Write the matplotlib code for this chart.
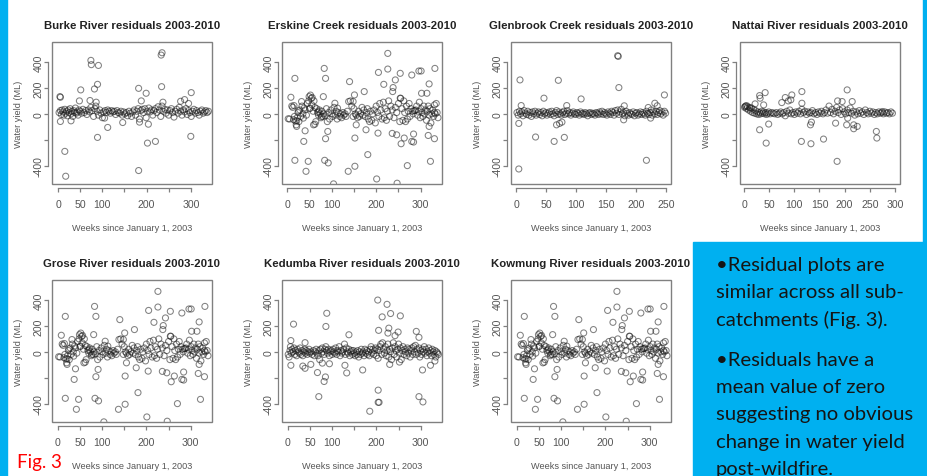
import matplotlib
matplotlib.use("Agg")
import matplotlib.pyplot as plt
from matplotlib.patches import Rectangle

# ---- data (week, residual ML) ----
burke = [(2,10),(5,25),(7,-5),(9,30),(11,15),(13,-10),(15,35),(17,5),(19,20),(21,-15),(23,30),(25,10),
         (27,40),(29,0),(31,20),(33,-20),(35,25),(37,10),(39,45),(41,5),(43,15),(45,-10),(47,30),(50,20),
         (53,5),(56,35),(59,10),(62,25),(65,-5),(68,30),(71,15),(74,50),(77,25),(80,-20),(83,40),(85,60),
         (88,20),(91,-10),(94,30),(97,5),(100,-30),(103,15),(106,25),(109,10),(112,30),(115,20),(118,5),
         (121,25),(124,15),(127,20),(130,-5),(133,25),(136,10),(139,5),(142,20),(145,-10),(148,15),(151,0),
         (154,10),(157,-15),(160,20),(163,5),(166,-20),(169,15),(172,30),(175,-10),(178,20),(181,40),
         (184,-40),(187,25),(190,35),(193,10),(196,40),(199,-30),(202,20),(205,45),(208,15),(211,30),
         (214,-10),(217,25),(220,40),(223,10),(226,55),(229,30),(232,-20),(235,60),(238,20),(241,35),
         (244,5),(247,30),(250,-10),(253,25),(256,40),(259,10),(262,-25),(265,20),(268,35),(271,5),(274,50),
         (277,20),(280,-10),(283,30),(286,15),(289,40),(292,-5),(295,25),(298,10),(301,-20),(304,20),
         (307,35),(310,5),(313,25),(316,10),(319,-10),(322,20),(325,30),(328,5),(331,15),(334,25),(337,10),
         (340,20),
         (4,133),(5,128),(5,-59),(15,-290),(17,-482),(51,185),(48,100),(72,103),(74,413),(75,380),(82,192),
         (89,228),(91,374),(89,-182),(112,-105),(86,90),(146,-67),(182,197),(182,-438),(188,100),(199,159),
         (202,-226),(204,-80),(220,-213),(233,454),(235,472),(234,210),(237,90),(277,97),(286,110),(295,80),
         (301,164),(300,-174),(29,-54),(105,-33),(184,-64)]

erskine = [(2,-38),(5,-40),(8,128),(10,60),(12,50),(14,-45),(16,-20),(18,-55),(20,-85),(22,-30),(24,10),
           (26,-60),(28,30),(30,-20),(33,60),(35,0),(38,45),(40,30),(43,-10),(45,80),(48,100),(50,40),
           (52,145),(54,120),(55,70),(58,20),(60,100),(62,-80),(64,-60),(66,40),(68,10),(70,-10),(72,30),
           (74,0),(76,-30),(78,20),(80,-20),(82,0),(85,-15),(88,40),(90,-60),(93,10),(95,-40),(98,30),
           (100,0),(102,-20),(105,50),(108,-10),(110,20),(112,-40),(115,10),(118,-20),(120,0),(122,-30),
           (125,10),(127,-10),(130,0),(132,-20),(135,20),(138,95),(142,100),(145,60),(148,-20),(150,40),
           (153,0),(155,-10),(158,-30),(160,20),(162,-20),(165,0),(168,50),(170,-10),(172,30),(175,-20),
           (178,10),(180,40),(182,-40),(185,-60),(187,20),(190,-50),(192,0),(195,30),(198,-70),(200,60),
           (203,10),(206,-20),(208,80),(210,30),(213,-40),(216,90),(218,-30),(220,40),(223,-50),(225,20),
           (228,100),(230,-20),(233,60),(236,30),(240,-30),(243,50),(246,10),(250,80),(253,-60),(255,120),
           (258,40),(260,-50),(262,100),(264,10),(266,-60),(268,60),(270,-40),(272,20),(274,80),(276,-20),
           (278,40),(281,20),(283,0),(285,25),(287,25),(289,30),(291,60),(293,-10),(295,20),(297,90),
           (299,-30),(301,40),(303,10),(305,-20),(307,60),(309,0),(311,30),(313,-50),(315,20),(317,60),
           (319,-10),(321,40),(323,-70),(325,0),(327,30),(329,-20),(331,10),(333,0),(335,80),(337,10),
           (339,-30),
           (15,64),(17,274),(17,-359),(21,-54),(25,23),(21,-97),(32,95),(36,-33),(37,-213),(40,-131),
           (42,-444),(47,-367),(49,133),(51,44),(56,126),(59,-85),(62,49),(70,18),(77,-21),(81,133),
           (83,351),(86,274),(84,-359),(86,-192),(92,-379),(91,-136),(104,-541),(107,82),(113,44),
           (137,-444),(140,249),(148,95),(151,146),(152,-187),(152,-405),(155,-85),(173,172),(181,-315),
           (177,-123),(205,320),(204,-149),(201,-503),(217,228),(226,467),(226,346),(238,203),(237,172),
           (236,-151),(243,262),(246,-162),(247,-536),(254,313),(254,121),(256,-231),(263,-187),(270,-400),
           (280,300),(280,-213),(284,-218),(296,331),(301,331),(302,159),(314,159),(319,231),(322,-367),
           (317,-167),(331,-192),(332,351),(331,69),(319,-97),(284,-156)]

glenbrook = [(1,10),(3,-10),(5,20),(7,0),(9,15),(11,-15),(13,25),(15,5),(17,-5),(19,20),(21,-10),(23,10),
             (25,-20),(27,15),(29,0),(31,20),(33,-10),(35,5),(37,15),(39,-5),(41,10),(43,-15),(45,20),
             (47,0),(49,10),(51,-10),(53,5),(55,15),(57,-5),(59,20),(61,0),(63,-15),(65,10),(67,25),(69,-5),
             (71,15),(73,0),(75,-10),(77,10),(79,20),(81,-5),(83,5),(85,25),(87,0),(89,10),(91,-10),(93,5),
             (95,15),(97,0),(99,-5),(101,10),(103,5),(105,-10),(107,15),(109,0),(111,5),(113,-5),(115,10),
             (117,0),(119,-15),(121,5),(123,10),(125,-5),(127,5),(129,0),(131,-10),(133,10),(135,5),(137,-5),
             (139,15),(141,0),(143,20),(145,-5),(147,10),(149,0),(151,-10),(153,15),(155,5),(157,-5),(159,20),
             (161,10),(163,-10),(165,25),(167,5),(169,30),(171,-5),(173,15),(175,35),(177,0),(179,10),(181,-15),
             (183,20),(185,5),(187,-10),(189,10),(191,0),(193,-5),(195,15),(197,-15),(199,5),(201,10),
             (203,-10),(205,0),(207,15),(209,-5),(211,10),(213,0),(215,-10),(217,20),(219,5),(221,-5),
             (223,10),(225,30),(227,-10),(229,15),(231,0),(233,20),(235,-5),(237,10),(239,25),(241,0),
             (243,15),(245,-10),(247,20),(249,5),
             (6,262),(4,-74),(4,-426),(8,64),(32,-179),(46,121),(63,-213),(67,-85),(70,259),(72,-74),
             (76,-64),(80,-182),(84,64),(108,115),(169,449),(170,444),(171,203),(179,-46),(180,62),(217,-359),
             (220,49),(231,82),(235,62),(247,146),(224,-33)]

nattai = [(1,50),(3,60),(5,40),(7,55),(9,30),(11,50),(13,20),(15,45),(17,10),(19,35),(21,5),(23,25),(25,0),
          (27,15),(29,-5),(31,10),(33,0),(35,20),(37,5),(39,15),(41,0),(43,10),(45,-5),(47,5),(49,15),(52,0),
          (55,10),(58,5),(61,0),(64,10),(67,-5),(70,5),(73,15),(76,0),(79,10),(82,-15),(85,20),(88,5),(91,30),
          (94,0),(97,10),(100,-5),(103,15),(106,5),(109,20),(112,0),(115,35),(118,10),(121,20),(124,-5),
          (127,15),(130,5),(133,10),(136,25),(139,0),(142,10),(145,-5),(148,15),(151,5),(154,20),(157,0),
          (160,10),(163,30),(166,5),(169,60),(172,10),(175,35),(178,0),(181,20),(184,50),(187,10),(190,30),
          (193,-5),(196,40),(199,15),(202,0),(205,30),(208,10),(211,45),(214,5),(217,20),(220,-10),(223,15),
          (226,0),(229,25),(232,5),(235,15),(238,-5),(241,30),(244,10),(247,0),(250,20),(253,5),(256,15),
          (259,-5),(262,10),(265,0),(268,15),(271,5),(274,10),(277,0),(280,15),(283,5),(286,10),(289,0),
          (292,15),(295,5),
          (2,56),(5,64),(12,44),(22,77),(31,141),(32,121),(31,-123),(42,164),(44,-226),(49,-79),(39,69),
          (75,87),(82,126),(88,100),(95,146),(93,108),(115,172),(115,82),(114,-213),(132,-85),(134,-64),
          (133,-231),(158,-195),(182,-72),(185,-367),(186,100),(195,95),(205,185),(204,-85),(206,-33),
          (215,95),(218,-85),(218,-115),(225,-97),(263,-136),(264,-187),(275,18)]

kedumba = [(1,-20),(3,-40),(5,10),(6,40),(8,-10),(10,20),(12,0),(14,30),(16,-20),(18,10),(20,-30),(22,20),
           (24,0),(26,-10),(28,30),(30,-20),(32,10),(34,-30),(36,0),(38,20),(40,-10),(42,10),(44,-20),(46,0),
           (48,20),(50,-10),(52,0),(55,-20),(58,10),(60,-30),(62,0),(64,20),(66,-10),(68,-30),(70,10),(72,-60),
           (74,20),(76,-10),(78,30),(80,0),(82,-20),(84,20),(86,40),(88,10),(90,-10),(92,20),(94,-30),(96,0),
           (98,10),(100,-20),(102,20),(104,0),(106,-10),(108,30),(110,-20),(112,10),(114,0),(116,40),
           (118,-30),(120,10),(122,-10),(124,0),(126,20),(128,60),(130,-20),(132,30),(134,0),(136,-10),
           (138,20),(140,-30),(142,0),(144,10),(146,-20),(148,10),(150,-10),(152,-30),(154,0),(156,-20),
           (158,10),(160,-40),(162,0),(164,-20),(166,20),(168,-10),(170,0),(172,-30),(174,20),(176,-10),
           (178,10),(180,-20),(182,0),(184,-30),(186,20),(188,40),(190,-10),(192,20),(194,-20),(196,10),
           (198,30),(200,-30),(202,20),(204,-50),(206,10),(208,40),(210,60),(212,-20),(214,70),(216,20),
           (218,-10),(220,40),(222,-30),(224,10),(226,60),(228,-40),(230,20),(232,0),(234,-60),(236,30),
           (238,70),(240,-20),(242,40),(244,10),(246,-40),(248,20),(250,60),(252,-10),(254,30),(256,-60),
           (258,10),(260,40),(262,-20),(264,20),(266,0),(268,-30),(270,30),(272,-10),(274,20),(276,-40),
           (278,10),(280,30),(282,-20),(284,40),(286,0),(288,50),(290,-20),(292,20),(294,-10),(296,30),
           (298,-40),(300,10),(302,-20),(304,20),(306,0),(308,40),(310,-10),(312,20),(314,-30),(316,0),
           (318,30),(320,-10),(322,10),(324,-30),(326,20),(328,0),(330,-20),(332,10),(334,-40),(336,0),
           (338,-10),(340,-20),
           (7,-104),(7,87),(13,214),(39,71),(34,-110),(39,-127),(52,-97),(67,-160),(70,-346),(78,-87),
           (82,-229),(85,-194),(88,298),(86,196),(94,-92),(129,-104),(133,-163),(138,132),(169,-140),
           (185,-459),(203,400),(204,-296),(204,-390),(206,-390),(205,166),(213,270),(224,367),(232,296),
           (228,183),(226,145),(242,125),(249,153),(254,278),(252,-79),(230,-97),(290,158),(296,112),
           (296,-346),(305,-387),(304,-140),(322,-104),(332,-71)]

# panels: title, data, x ticks, x tick labels, x limits
titles = ["Burke River residuals 2003-2010", "Erskine Creek residuals 2003-2010",
          "Glenbrook Creek residuals 2003-2010", "Nattai River residuals 2003-2010",
          "Grose River residuals 2003-2010", "Kedumba River residuals 2003-2010",
          "Kowmung River residuals 2003-2010"]
panel_data = [burke, erskine, glenbrook, nattai, erskine, kedumba, erskine]
xt300 = [0, 50, 100, 150, 200, 250, 300]
xl300 = ["0", "50", "100", "", "200", "", "300"]
xt250 = [0, 50, 100, 150, 200, 250]
xl250 = ["0", "50", "100", "150", "200", "250"]
xl300_full = ["0", "50", "100", "150", "200", "250", "300"]
panel_xticks = [xt300, xt300, xt250, xt300, xt300, xt300, xt300]
panel_xlabels = [xl300, xl300, xl250, xl300_full, xl300, xl300, xl300]
panel_xlim = [(-14, 348), (-12, 348), (-9, 258), (-8, 310), (-13, 348), (-13, 348), (-13, 348)]
yticks = [-400, -200, 0, 200, 400]
ylabels = ["-400", "", "0", "200", "400"]

bullets = ["\u2022Residual plots are", "similar across all sub-", "catchments (Fig. 3).",
           "\u2022Residuals have a", "mean value of zero", "suggesting no obvious",
           "change in water yield", "post-wildfire."]

W, H = 928, 477
fig = plt.figure(figsize=(W / 100, H / 100), dpi=100)
plt.rcParams['font.family'] = ['Liberation Sans', 'DejaVu Sans']

blue = "#00B0F0"
fig.patches.append(Rectangle((0, 0), 7 / W, 1, transform=fig.transFigure, color=blue, zorder=0))
fig.patches.append(Rectangle((923 / W, 0), 5 / W, 1, transform=fig.transFigure, color=blue, zorder=0))
fig.patches.append(Rectangle((693 / W, 0), 235 / W, 234 / H, transform=fig.transFigure, color=blue, zorder=0))

lefts = [52, 282, 511, 740, 52, 282, 511]
tops = [43, 43, 43, 43, 281, 281, 281]
pw, ph = 160, 142

for i in range(7):
    ax = fig.add_axes([lefts[i] / W, (H - tops[i] - ph) / H, pw / W, ph / H])
    xs = [p[0] for p in panel_data[i]]
    ys = [p[1] for p in panel_data[i]]
    ax.scatter(xs, ys, s=19, facecolors='none', edgecolors=(0.1, 0.1, 0.1, 0.55), linewidths=0.75)
    ax.set_xlim(panel_xlim[i])
    ax.set_ylim(-542, 555)
    for s in ['top', 'right']:
        ax.spines[s].set_visible(False)
    ax.add_patch(Rectangle((0, 0), 1, 1, transform=ax.transAxes, fill=False,
                           ec='#808080', lw=1.0, clip_on=False))
    ax.spines['left'].set_position(('outward', 3))
    ax.spines['bottom'].set_position(('outward', 3))
    ax.spines['left'].set_bounds(-400, 400)
    ax.spines['bottom'].set_bounds(panel_xticks[i][0], panel_xticks[i][-1])
    for s in ['left', 'bottom']:
        ax.spines[s].set_color('#808080')
        ax.spines[s].set_linewidth(0.9)
    ax.set_xticks(panel_xticks[i])
    ax.set_xticklabels(panel_xlabels[i])
    ax.set_yticks(yticks)
    ax.set_yticklabels(ylabels, rotation=90, va='center')
    ax.tick_params(direction='out', length=3, width=0.9, color='#808080',
                   labelsize=7.6, labelcolor='#555555')
    ax.tick_params(axis='x', pad=5)
    ax.tick_params(axis='y', pad=0)
    ax.set_xlabel("Weeks since January 1, 2003", fontsize=6.6, color='#555555', labelpad=10)
    ax.set_ylabel("Water yield (ML)", fontsize=6.6, color='#555555', labelpad=8)
    ax.set_title(titles[i], fontsize=8.2, fontweight='bold', color='#222222', pad=10)

line_y = [265, 292.5, 320, 360, 387.5, 415, 442.5, 470]
for t, y in zip(bullets, line_y):
    fig.text(716 / W, 1 - y / H, t, fontsize=14.6, family=['Lato', 'DejaVu Sans'],
             color='#151515', va='center', ha='left')

fig.text(17 / W, 1 - 463 / H, "Fig. 3", fontsize=13.5, family=['Lato', 'DejaVu Sans'],
         color='#ff0000', va='center', ha='left')

fig.savefig("out.png", dpi=100)
